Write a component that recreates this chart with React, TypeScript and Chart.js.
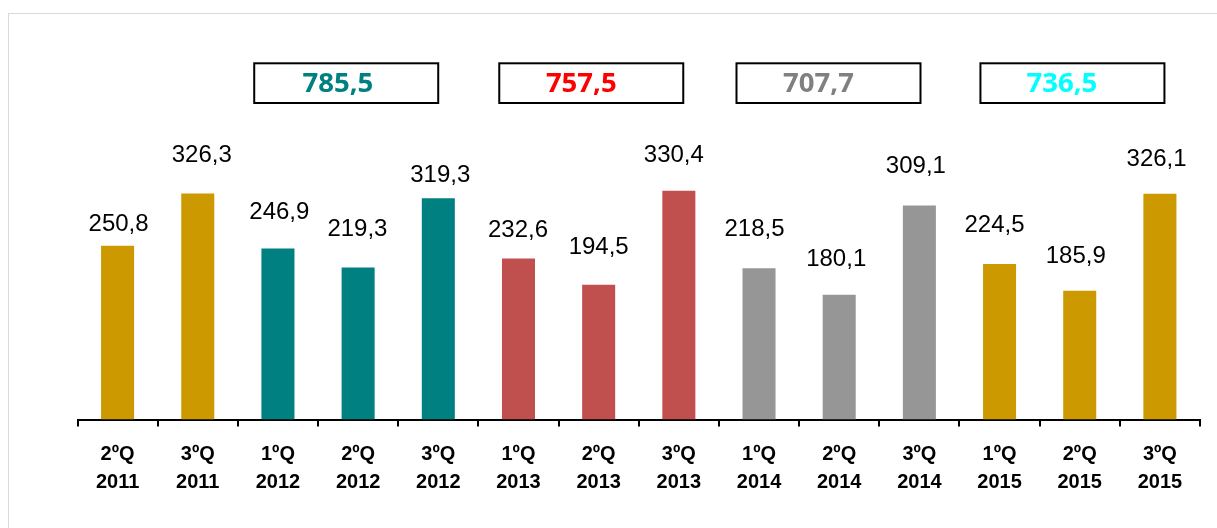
import React, { useEffect, useRef } from "react";
import { Chart, registerables } from "chart.js";

Chart.register(...registerables);

const quarters = ["2ºQ", "3ºQ", "1ºQ", "2ºQ", "3ºQ", "1ºQ", "2ºQ", "3ºQ", "1ºQ", "2ºQ", "3ºQ", "1ºQ", "2ºQ", "3ºQ"];
const years = ["2011", "2011", "2012", "2012", "2012", "2013", "2013", "2013", "2014", "2014", "2014", "2015", "2015", "2015"];
const values = [250.8, 326.3, 246.9, 219.3, 319.3, 232.6, 194.5, 330.4, 218.5, 180.1, 309.1, 224.5, 185.9, 326.1];
const barColors = [
  "#CC9900", "#CC9900",
  "#008080", "#008080", "#008080",
  "#C0504D", "#C0504D", "#C0504D",
  "#969696", "#969696", "#969696",
  "#CC9900", "#CC9900", "#CC9900",
];
// yearly totals shown in boxes above each year's group (middle category index)
const totalLabels = ["785,5", "757,5", "707,7", "736,5"];
const totalColors = ["#008080", "#FF0000", "#808080", "#00FFFF"];
const totalCenterIndex = [3, 6, 9, 12];

// layout tweaks for the hand-placed labels of the original
const labelGap = [14.3, 31.3, 29.7, 31.3, 16.3, 21.7, 30.7, 28.7, 32, 29, 32, 31.7, 27.7, 27.3];
const labelDx = [1, 4, 1.4, -0.7, 2, -0.5, 0, -5, -4.5, -3, -3.5, -5, -4, -3.3];
const boxDx = [-11.9, -7.4, -10.7, -7.3];
const boxTextDx = [-8.4, -10, -10, -10.5];

const fmt = (v: number) => v.toFixed(1).replace(".", ",");

export default function App() {
  const ref = useRef<HTMLCanvasElement | null>(null);

  useEffect(() => {
    if (!ref.current) return;
    const labelPlugin = {
      id: "valueLabels",
      afterDatasetsDraw(chart: any) {
        const ctx = chart.ctx;
        const meta = chart.getDatasetMeta(0);
        ctx.save();
        ctx.font = "24px 'Liberation Sans', Arial, sans-serif";
        ctx.fillStyle = "#000";
        ctx.textAlign = "center";
        ctx.textBaseline = "alphabetic";
        meta.data.forEach((bar: any, i: number) => {
          ctx.fillText(fmt(values[i]), bar.x + labelDx[i], bar.y - labelGap[i]);
        });
        ctx.restore();
      },
      afterDraw(chart: any) {
        const ctx = chart.ctx;
        const xs = chart.scales.x;
        ctx.save();
        totalLabels.forEach((t, i) => {
          const cx = xs.getPixelForValue(totalCenterIndex[i]) + boxDx[i];
          const w = 184;
          const h = 39.7;
          const top = 49.3;
          ctx.lineWidth = 2;
          ctx.strokeStyle = "#000";
          ctx.strokeRect(cx - w / 2, top, w, h);
          ctx.font = "bold 27.5px 'Noto Sans', 'Open Sans', sans-serif";
          ctx.fillStyle = totalColors[i];
          ctx.textAlign = "center";
          ctx.textBaseline = "middle";
          ctx.fillText(t, cx + boxTextDx[i], top + h / 2 + 1);
        });
        ctx.restore();
      },
    };

    const chart = new Chart(ref.current, {
      type: "bar",
      data: {
        labels: quarters.map((q, i) => [q, years[i]]),
        datasets: [
          {
            data: values,
            backgroundColor: barColors,
            borderWidth: 0,
            barPercentage: 0.412,
            categoryPercentage: 1,
          },
        ],
      },
      options: {
        responsive: false,
        animation: false,
        layout: { padding: { left: 68.5, right: 17, top: 59.2, bottom: 0 } },
        plugins: { legend: { display: false }, tooltip: { enabled: false } },
        scales: {
          y: { display: false, min: 0, max: 500 },
          x: {
            afterFit: (scale: any) => {
              scale.height = 108.5;
            },
            grid: {
              display: true,
              drawOnChartArea: false,
              drawTicks: true,
              tickLength: 7,
              color: "#000",
              lineWidth: 2,
              offset: true,
            },
            border: { display: true, color: "#000", width: 2 },
            ticks: {
              color: "#000",
              padding: 14,
              font: { family: "'Liberation Sans', Arial, sans-serif", size: 20, weight: "bold", lineHeight: 1.4 },
              maxRotation: 0,
              autoSkip: false,
            },
          },
        },
      },
      plugins: [labelPlugin],
    });
    return () => chart.destroy();
  }, []);

  return (
    <div
      style={{
        position: "fixed",
        left: 8,
        top: 13,
        width: 1240,
        height: 540,
        border: "1px solid #d9d9d9",
        background: "#fff",
        boxSizing: "border-box",
      }}
    >
      <canvas ref={ref} width={1208} height={514} style={{ position: "absolute", left: 0, top: 0, width: 1208, height: 514 }} />
    </div>
  );
}
